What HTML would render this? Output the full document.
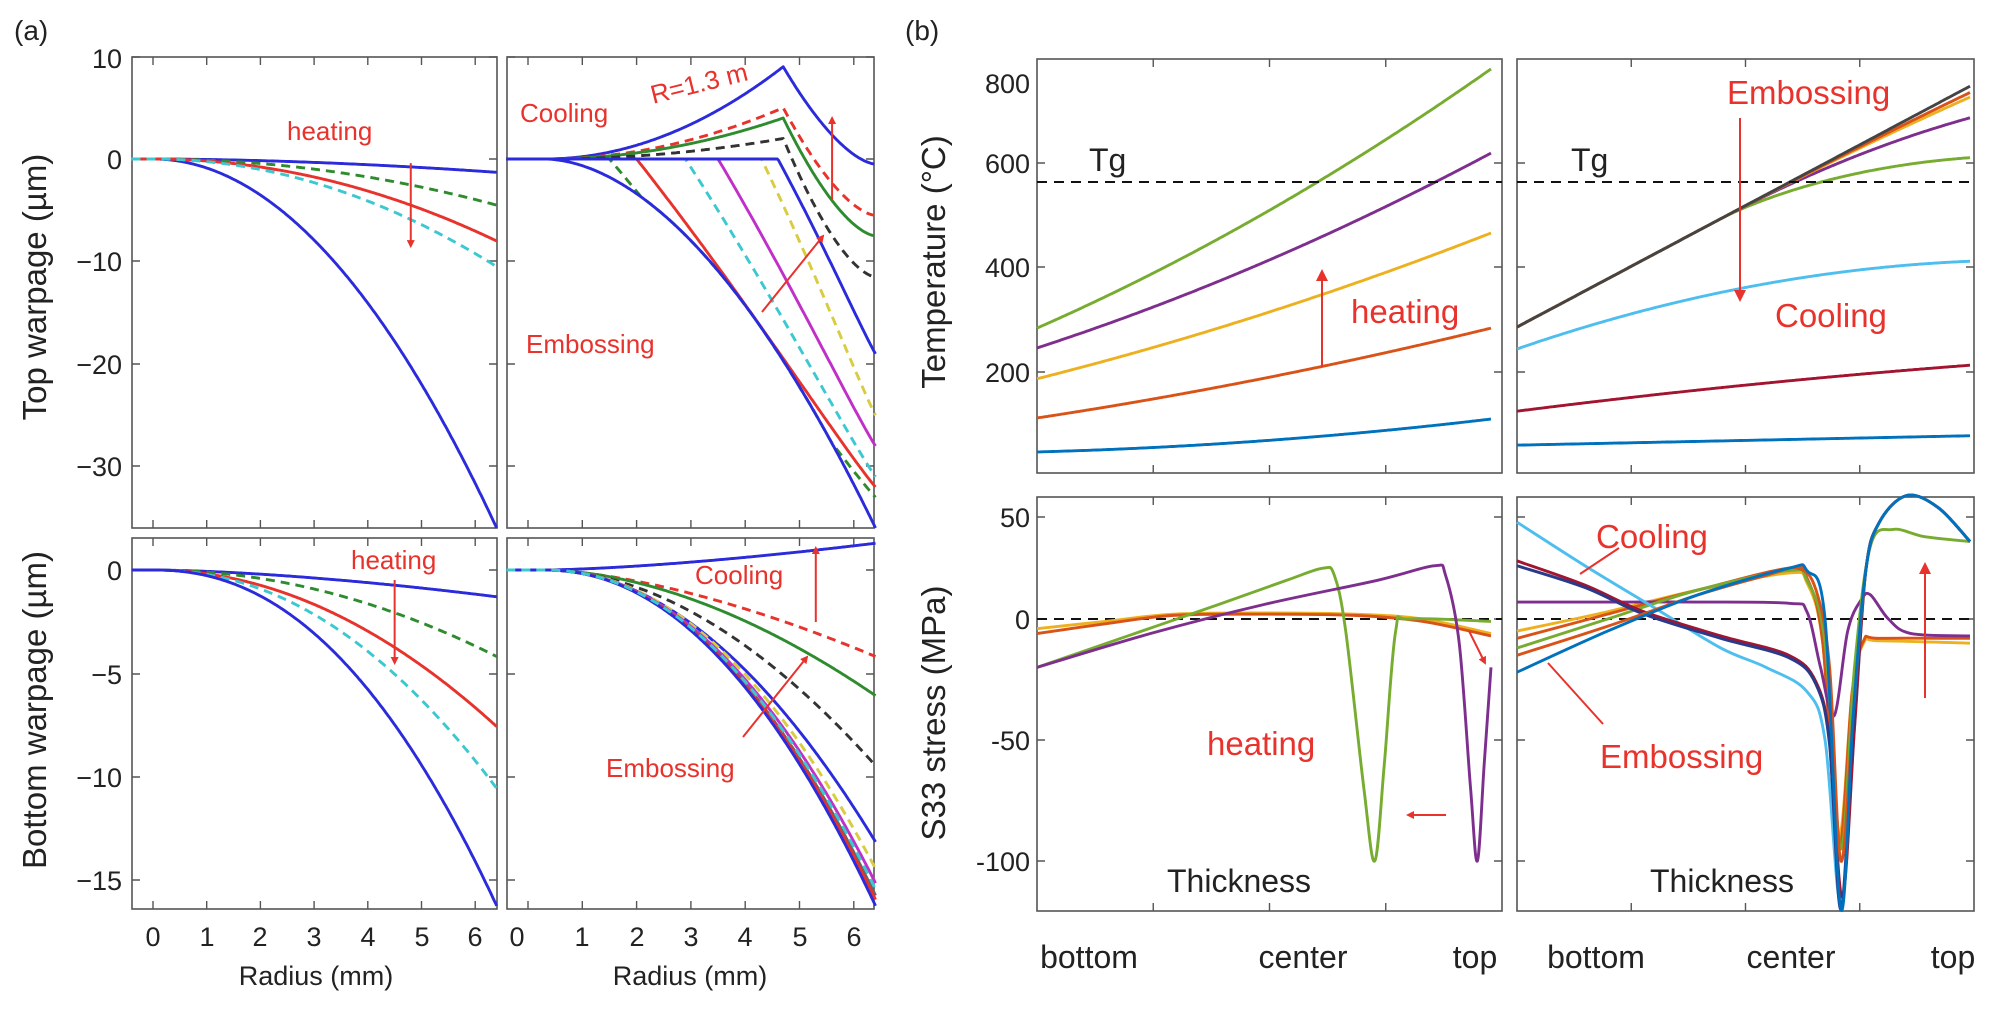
<!DOCTYPE html>
<html><head><meta charset="utf-8"><style>
html,body{margin:0;padding:0;background:#fff;}
svg{display:block;font-family:"Liberation Sans",sans-serif;}
</style></head><body>
<svg id="s" width="1996" height="1019" viewBox="0 0 1996 1019" xmlns="http://www.w3.org/2000/svg">
<defs><marker id="ah" markerWidth="8" markerHeight="8" refX="6" refY="4" orient="auto" markerUnits="userSpaceOnUse"><path d="M0,0 L8,4 L0,8 z" fill="#e8322c"/></marker>
<marker id="ah2" markerWidth="14" markerHeight="14" refX="10" refY="7" orient="auto" markerUnits="userSpaceOnUse"><path d="M0,1 L12,7 L0,13 z" fill="#e8322c"/></marker></defs>
<g id="g"></g>
<g fill="#222" font-size="27">
<text x="14" y="40" font-size="28">(a)</text>
<text x="905" y="40" font-size="28">(b)</text>
<g text-anchor="end">
<text x="122" y="68">10</text><text x="122" y="169">0</text><text x="122" y="271">−10</text><text x="122" y="374">−20</text><text x="122" y="476">−30</text>
<text x="122" y="580">0</text><text x="122" y="684">−5</text><text x="122" y="787">−10</text><text x="122" y="890">−15</text>
<text x="1030" y="93">800</text><text x="1030" y="173">600</text><text x="1030" y="277">400</text><text x="1030" y="382">200</text>
<text x="1030" y="527">50</text><text x="1030" y="629">0</text><text x="1030" y="750">-50</text><text x="1030" y="871">-100</text>
</g>
<g text-anchor="middle">
<text x="153" y="946">0</text><text x="207" y="946">1</text><text x="260" y="946">2</text><text x="314" y="946">3</text><text x="368" y="946">4</text><text x="422" y="946">5</text><text x="475" y="946">6</text>
<text x="517" y="946">0</text><text x="582" y="946">1</text><text x="637" y="946">2</text><text x="691" y="946">3</text><text x="745" y="946">4</text><text x="800" y="946">5</text><text x="854" y="946">6</text>
<text x="316" y="985">Radius (mm)</text><text x="690" y="985">Radius (mm)</text>
<g font-size="32"><text x="1089" y="968">bottom</text><text x="1303" y="968">center</text><text x="1475" y="968">top</text>
<text x="1596" y="968">bottom</text><text x="1791" y="968">center</text><text x="1953" y="968">top</text></g>
<g font-size="33">
<text transform="translate(46,287) rotate(-90)">Top warpage (µm)</text>
<text transform="translate(46,710) rotate(-90)">Bottom warpage (µm)</text>
<text transform="translate(945,262) rotate(-90)">Temperature (°C)</text>
<text transform="translate(945,713) rotate(-90)">S33 stress (MPa)</text>
</g>
</g>
<g font-size="32"><text x="1089" y="171">Tg</text><text x="1571" y="171">Tg</text>
<text x="1167" y="892">Thickness</text><text x="1650" y="892">Thickness</text></g>
</g>
<g fill="#e8322c">
<g font-size="26"><text x="287" y="140">heating</text><text x="351" y="569">heating</text>
<text x="520" y="122">Cooling</text><text x="526" y="353">Embossing</text>
<text x="695" y="584">Cooling</text><text x="606" y="777">Embossing</text>
<text x="650" y="92" transform="rotate(-14 700 85)">R=1.3 m</text></g>
<g font-size="33"><text x="1351" y="323">heating</text><text x="1727" y="104">Embossing</text><text x="1775" y="327">Cooling</text>
<text x="1207" y="755">heating</text><text x="1596" y="548">Cooling</text><text x="1600" y="768">Embossing</text></g>
</g>
</svg>
<script>
var G=document.getElementById('g'),NS='http://www.w3.org/2000/svg';
function el(t,a){var e=document.createElementNS(NS,t);for(var k in a)e.setAttribute(k,a[k]);G.appendChild(e);return e;}
function frame(x0,y0,x1,y1,xt,yt){el('rect',{x:x0,y:y0,width:x1-x0,height:y1-y0,fill:'none',stroke:'#555','stroke-width':1.6});
 var d='';xt.forEach(function(x){d+='M'+x+','+y1+'v-8M'+x+','+y0+'v8';});yt.forEach(function(y){d+='M'+x0+','+y+'h8M'+x1+','+y+'h-8';});
 el('path',{d:d,stroke:'#555','stroke-width':1.4,fill:'none'});}
function line(pts,c,dash,w){var d='';pts.forEach(function(p,i){d+=(i?'L':'M')+p[0].toFixed(1)+','+p[1].toFixed(1);});
 var a={d:d,stroke:c,fill:'none','stroke-width':w||2.9,'stroke-linejoin':'round'};if(dash)a['stroke-dasharray']='9,6';el('path',a);}
function fn(f,a,b,X,Y,c,dash,w){var p=[];for(var i=0;i<=300;i++){var t=a+(b-a)*i/300;var v=f(t);p.push([X(t),Y(v)]);}line(p,c,dash,w);}
function spline(pts,X,Y,c,w){var P=pts.map(function(p){return[X(p[0]),Y(p[1])];});var d='M'+P[0][0]+','+P[0][1];
 for(var i=0;i<P.length-1;i++){var p0=P[Math.max(0,i-1)],p1=P[i],p2=P[i+1],p3=P[Math.min(P.length-1,i+2)];
 d+='C'+(p1[0]+(p2[0]-p0[0])/6)+','+(p1[1]+(p2[1]-p0[1])/6)+' '+(p2[0]-(p3[0]-p1[0])/6)+','+(p2[1]-(p3[1]-p1[1])/6)+' '+p2[0]+','+p2[1];}
 el('path',{d:d,stroke:c,fill:'none','stroke-width':w||2.9});}
function arrow(x1,y1,x2,y2,big){el('line',{x1:x1,y1:y1,x2:x2,y2:y2,stroke:'#e8322c','stroke-width':2,'marker-end':'url(#'+(big?'ah2':'ah')+')'});}
var B='#2b2bdc',R='#e8322c',Gr='#2e8b2e',C='#3cc8d0',K='#333',M='#c030c8',Yl='#d8cc40';
var X1=function(r){return 153+53.7*r},X2=function(r){return 528+54.3*r};
var YT=function(w){return 159-10.25*w},YB=function(w){return 570-20.6*w};
var xt1=[0,1,2,3,4,5,6].map(X1),xt2=[0,1,2,3,4,5,6].map(X2);
frame(132,57,497,528,xt1,[57,159,261,364,466]);frame(507,57,874,528,xt2,[57,159,261,364,466]);
frame(132,538,497,909,xt1,[570,674,777,880]);frame(507,538,874,909,xt2,[570,674,777,880]);
function pw(a,p,r0){return function(r){var u=Math.max(0,r-(r0||0));return -a*Math.pow(u,p);};}
fn(pw(0.879,2,0),-0.4,6.4,X1,YT,B);
fn(pw(1.3/Math.pow(6.4,1.8),1.8,0),-0.4,6.4,X1,YT,B);
fn(pw(4.5/Math.pow(6.4,2),2,0),-0.4,6.4,X1,YT,Gr,1);
fn(pw(8/Math.pow(6.4,2),2,0),-0.4,6.4,X1,YT,R);
fn(pw(10.5/Math.pow(6.4,2),2,0),-0.4,6.4,X1,YT,C,1);
arrow(X1(4.8),YT(-0.4),X1(4.8),YT(-8.5));
var env=function(r){var u=Math.max(0,r-0.3);return -36*Math.pow(u/6.1,1.85);};
function up(pk,end){return function(r){if(r<4.7){var u=Math.max(0,r-0.3)/4.4;return pk*u*u;}var t=(r-4.7)/1.7;return pk-(pk-end)*(1-Math.pow(1-t,1.6));};}
fn(up(9,-0.5),-0.4,6.4,X2,YT,B);fn(up(5,-5.5),-0.4,6.4,X2,YT,R,1);fn(up(4,-7.5),-0.4,6.4,X2,YT,Gr);fn(up(2,-11.5),-0.4,6.4,X2,YT,K,1);
function br(r0,end){return function(r){if(r<r0)return 0;var t=(r-r0)/(6.4-r0);var v=end*(0.55*t+0.45*t*t)*0.5+end*(1-Math.pow(1-t,1.3))*0.5;return Math.max(v,env(r));};}
[[1.5,-33,Gr,1],[2.0,-32,R],[2.9,-31,C,1],[3.5,-28,M],[4.3,-25,Yl,1],[4.6,-19,B]].forEach(function(q){fn(function(r){return r<q[0]?0:br(q[0],q[1])(r);},0.3,6.4,X2,YT,q[2],q[3]);});
fn(env,-0.4,6.4,X2,YT,B);
arrow(X2(5.6),YT(-4),X2(5.6),YT(4));arrow(762,312,823,236);
fn(pw(1.3/Math.pow(6.4,1.6),1.6,0),-0.4,6.4,X1,YB,B);
fn(pw(4.2/Math.pow(6.4,2),2,0),-0.4,6.4,X1,YB,Gr,1);
fn(pw(7.6/Math.pow(6.4,2),2,0),-0.4,6.4,X1,YB,R);
fn(pw(10.6/Math.pow(6.4,2.1),2.1,0),-0.4,6.4,X1,YB,C,1);
fn(pw(16.3/Math.pow(6.4,2.2),2.2,0),-0.4,6.4,X1,YB,B);
arrow(X1(4.5),580,X1(4.5),663);
fn(function(r){var u=Math.max(0,r-0.3);return 1.3*Math.pow(u/6.1,1.5);},-0.4,6.4,X2,YB,B);
fn(pw(4.2/Math.pow(6.1,1.6),1.6,0.3),-0.4,6.4,X2,YB,R,1);
fn(pw(6.1/Math.pow(6.1,1.8),1.8,0.3),-0.4,6.4,X2,YB,Gr);
fn(pw(9.5/Math.pow(6.1,1.9),1.9,0.3),-0.4,6.4,X2,YB,K,1);
fn(pw(13.2/Math.pow(6.1,2),2,0.3),-0.4,6.4,X2,YB,B);
[[14.5,Yl,1],[15.2,M],[15.8,'#666'],[16.0,R],[16.3,B],[15.5,C,1]].forEach(function(q){fn(pw(q[0]/Math.pow(6.1,2.1),2.1,0.3),-0.4,6.4,X2,YB,q[1],q[2]);});
arrow(X2(5.3),622,X2(5.3),548);arrow(743,737,807,657);
var XA=function(t){return 1037+454*t},XB=function(t){return 1517+453*t};
var YTe=function(T){return 372-(T-200)*0.5225},YS=function(S){return 619-S*2.42};
var xtA=[0.25,0.5,0.75].map(function(t){return 1037+465*t;}),xtB=[0.25,0.5,0.75].map(function(t){return 1517+457*t;});
frame(1037,59,1502,473,xtA,[163,267,372]);frame(1517,59,1974,473,xtB,[163,267,372]);
frame(1037,497,1502,911,xtA,[517,619,740,861]);frame(1517,497,1974,911,xtB,[517,619,740,861]);
function q(a,e,c){return function(t){return a+(e-a-c)*t+c*t*t;};}
fn(q(284,780,114),0,1,XA,YTe,'#77ac30');fn(q(246,619,90),0,1,XA,YTe,'#7e2f8e');
fn(q(187,466,60),0,1,XA,YTe,'#edb120');fn(q(112,284,40),0,1,XA,YTe,'#d95319');fn(q(47,110,40),0,1,XA,YTe,'#0072bd');
el('line',{x1:1037,y1:182,x2:1502,y2:182,stroke:'#111','stroke-width':2,'stroke-dasharray':'10,7'});
arrow(1322,367,1322,271,1);
function em(k,e){return function(t){return 286+461*t-k*Math.pow(Math.max(0,t-0.45),e||2);};}
fn(em(356,1.6),0,1,XB,YTe,'#77ac30');fn(em(200),0,1,XB,YTe,'#7e2f8e');fn(em(69),0,1,XB,YTe,'#edb120');
fn(em(40),0,1,XB,YTe,'#d95319');fn(em(0),0,1,XB,YTe,'#444');
fn(q(244,412,-132),0,1,XB,YTe,'#4dbeee');fn(q(125,213,-22),0,1,XB,YTe,'#a2142f');fn(q(60,78,0),0,1,XB,YTe,'#0072bd');
el('line',{x1:1517,y1:182,x2:1974,y2:182,stroke:'#111','stroke-width':2,'stroke-dasharray':'10,7'});
arrow(1740,118,1740,300,1);
el('line',{x1:1037,y1:619,x2:1502,y2:619,stroke:'#111','stroke-width':2,'stroke-dasharray':'10,7'});
spline([[0,-4],[0.15,-1],[0.3,2],[0.5,2.5],[0.7,2],[0.85,0],[1,-6]],XA,YS,'#edb120');
spline([[0,-6],[0.15,-2],[0.3,1.5],[0.5,2],[0.7,1.5],[0.85,-1],[1,-7]],XA,YS,'#d95319');
spline([[0,-20],[0.2,-7],[0.4,6],[0.55,16],[0.63,21],[0.655,18],[0.68,-5],[0.72,-70],[0.744,-100],[0.765,-60],[0.79,-5],[0.82,0],[1,-1]],XA,YS,'#77ac30');
spline([[0,-20],[0.25,-6],[0.5,6],[0.75,16],[0.875,22],[0.9,18],[0.93,-10],[0.955,-70],[0.97,-100],[0.985,-60],[1,-20]],XA,YS,'#7e2f8e');
arrow(1469,631,1485,663);arrow(1446,815,1408,815);
el('line',{x1:1517,y1:619,x2:1974,y2:619,stroke:'#111','stroke-width':2,'stroke-dasharray':'10,7'});
var pk=[[0.77,20],[0.8,40],[0.86,51],[0.93,46],[1,32]];
spline([[0,-5],[0.2,3],[0.4,12],[0.6,19],[0.64,15],[0.675,-10],[0.71,-90],[0.74,-30],[0.765,-10],[0.8,-9],[1,-10]],XB,YS,'#edb120');
spline([[0,-8],[0.2,2],[0.4,12],[0.6,21],[0.64,17],[0.675,-10],[0.71,-95],[0.74,-30],[0.765,-9],[0.8,-8],[1,-8]],XB,YS,'#d95319');
spline([[0,7],[0.2,7],[0.4,7],[0.6,6.5],[0.64,3],[0.67,-20],[0.7,-40],[0.73,-5],[0.76,8],[0.78,10],[0.82,0],[0.87,-6],[1,-7]],XB,YS,'#7e2f8e');
spline([[0,-12],[0.2,0],[0.4,12],[0.6,20],[0.64,16],[0.68,-10],[0.715,-95],[0.745,-20],[0.78,30],[0.83,37],[0.9,34],[1,32]],XB,YS,'#77ac30');
spline([[0,40],[0.15,22],[0.3,5],[0.45,-12],[0.55,-20],[0.64,-30],[0.68,-50],[0.715,-118],[0.745,-45]].concat(pk),XB,YS,'#4dbeee');
spline([[0,24],[0.15,14],[0.28,3],[0.45,-7],[0.6,-15],[0.66,-26],[0.69,-50],[0.718,-115],[0.745,-45]].concat(pk),XB,YS,'#a2142f');
spline([[0,22],[0.15,13],[0.28,2],[0.45,-8],[0.6,-16],[0.66,-27],[0.69,-52],[0.715,-120],[0.742,-45]].concat(pk),XB,YS,'#2a3a8a');
spline([[0,-15],[0.2,-3],[0.4,10],[0.55,18],[0.62,21],[0.66,12],[0.69,-20],[0.715,-100],[0.742,-40]].concat(pk),XB,YS,'#d95319');
spline([[0,-22],[0.2,-5],[0.4,10],[0.6,21],[0.64,20],[0.68,0],[0.715,-120],[0.742,-40]].concat(pk),XB,YS,'#0072bd');
arrow(1925,698,1925,564,1);
el('line',{x1:1619,y1:548,x2:1580,y2:574,stroke:'#e8322c','stroke-width':2});
el('line',{x1:1603,y1:724,x2:1548,y2:663,stroke:'#e8322c','stroke-width':2});
</script>
</body></html>
